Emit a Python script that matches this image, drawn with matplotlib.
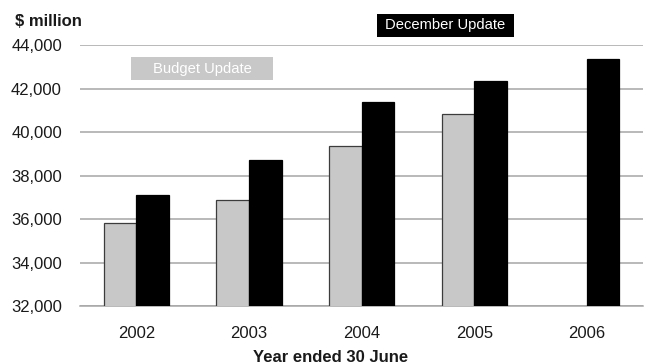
import numpy as np
import matplotlib
matplotlib.use("Agg")
import matplotlib.pyplot as plt
from matplotlib.patches import Rectangle
from matplotlib.ticker import FuncFormatter

plt.rcParams['font.family'] = ['Liberation Sans', 'DejaVu Sans']

# $ million, year ended 30 June
years = ['2002', '2003', '2004', '2005', '2006']
budget_update = [35820, 36870, 39370, 40830, np.nan]
december_update = [37100, 38710, 41400, 42340, 43370]

GREY = '#c8c8c8'
GRID = '#a6a6a6'

fig = plt.figure(figsize=(6.48, 3.63), dpi=100)
ax = fig.add_axes([0.1235, 0.1562, 0.869, 0.719])

x = np.arange(len(years))
w = 0.289
ax.bar(x - w / 2, budget_update, width=w, color=GREY, edgecolor='#3c3c3c',
       linewidth=0.9, zorder=3)
ax.bar(x + w / 2, december_update, width=w, color='black', edgecolor='black',
       linewidth=0.9, zorder=3)

ax.set_xlim(-0.5, len(years) - 0.5)
ax.set_ylim(32000, 44000)
ax.set_yticks(np.arange(32000, 44001, 2000))
ax.yaxis.set_major_formatter(FuncFormatter(lambda v, p: f'{v:,.0f}'))
ax.set_xticks(x)
ax.set_xticklabels(years)
ax.tick_params(axis='both', length=0, labelsize=12, colors='#1a1a1a')
ax.tick_params(axis='y', pad=13)
ax.tick_params(axis='x', pad=14)

ax.yaxis.grid(True, color=GRID, linewidth=1.1, zorder=0)
ax.set_axisbelow(True)
for side in ['left', 'right', 'top']:
    ax.spines[side].set_visible(False)
ax.spines['bottom'].set_color(GRID)
ax.spines['bottom'].set_linewidth(1.1)

fig.text(15 / 648, 1 - 21.5 / 363, '$ million', fontsize=12, fontweight='bold',
         ha='left', va='center', color='#1a1a1a')
fig.text(331 / 648, 1 - 361.5 / 363, 'Year ended 30 June', fontsize=12,
         fontweight='bold', ha='center', va='baseline', color='#1a1a1a')

# series labels as filled boxes
fig.add_artist(Rectangle((131 / 648, 1 - 80 / 363), 141.5 / 648, 23 / 363,
                         transform=fig.transFigure, facecolor=GREY,
                         edgecolor='none'))
fig.text(202 / 648, 1 - 68.5 / 363, 'Budget Update', fontsize=10.6,
         color='white', ha='center', va='center')
fig.add_artist(Rectangle((377.3 / 648, 1 - 36.7 / 363), 136.4 / 648, 22.7 / 363,
                         transform=fig.transFigure, facecolor='black',
                         edgecolor='none'))
fig.text(445.5 / 648, 1 - 25.3 / 363, 'December Update', fontsize=10.6,
         color='white', ha='center', va='center')

fig.savefig('out.png', dpi=100)
